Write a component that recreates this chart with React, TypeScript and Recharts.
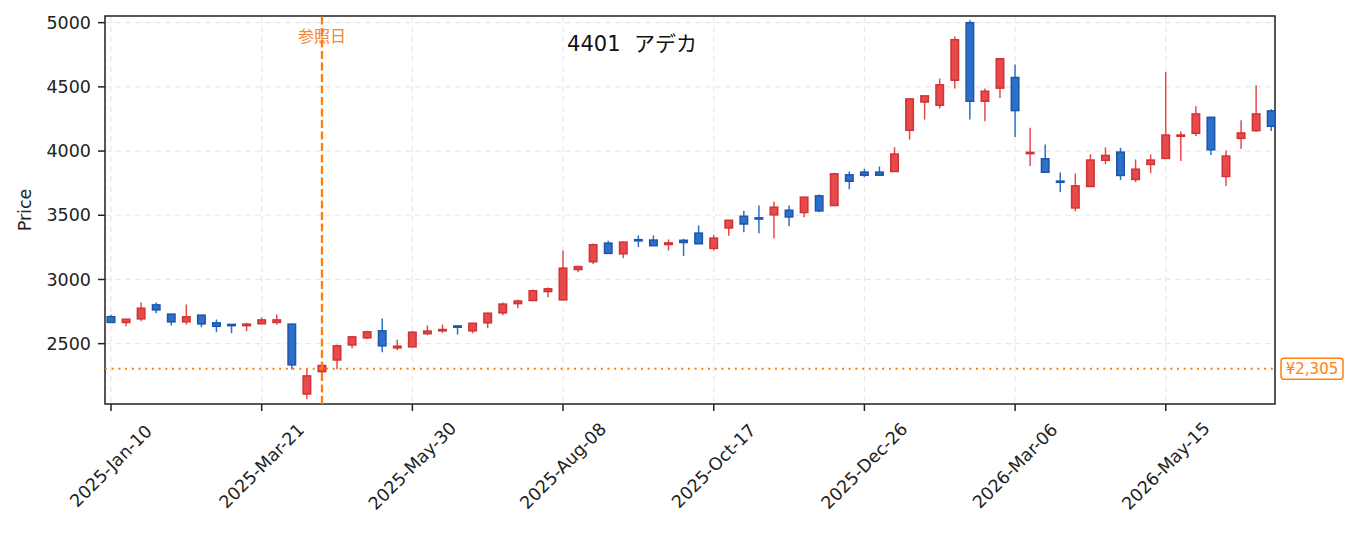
import React from "react";
import {
  Bar,
  CartesianGrid,
  ComposedChart,
  ReferenceArea,
  ReferenceLine,
  XAxis,
  YAxis,
} from "recharts";

// weekly candles, index 0 = 2025-01-10
const opens = [
  2710, 2665, 2693, 2802, 2730, 2670, 2722, 2662, 2650, 2640, 2655, 2665, 2652, 2108, 2282, 2373,
  2490, 2545, 2600, 2467, 2475, 2578, 2600, 2638, 2600, 2662, 2740, 2812, 2836, 2906, 2841, 3077,
  3138, 3283, 3200, 3310, 3307, 3272, 3305, 3361, 3242, 3401, 3492, 3480, 3503, 3539, 3521, 3651,
  3576, 3815, 3836, 3836, 3841, 4162, 4382, 4357, 4552, 5000, 4388, 4490, 4573, 3980, 3940, 3766,
  3557, 3724, 3928, 3992, 3779, 3896, 3943, 4115, 4138, 4263, 3802, 4099, 4159, 4313,
];
const highs = [
  2725, 2693, 2821, 2820, 2732, 2805, 2724, 2688, 2652, 2662, 2704, 2727, 2655, 2311, 2337, 2493,
  2561, 2600, 2696, 2532, 2598, 2641, 2649, 2640, 2661, 2742, 2821, 2844, 2922, 2938, 3226, 3106,
  3281, 3302, 3294, 3343, 3343, 3312, 3317, 3421, 3348, 3463, 3536, 3576, 3607, 3576, 3643, 3661,
  3831, 3841, 3862, 3880, 4031, 4409, 4432, 4565, 4893, 5018, 4487, 4721, 4674, 4182, 4052, 3833,
  3826, 3974, 4029, 4026, 3935, 3974, 4615, 4154, 4349, 4265, 4005, 4240, 4513, 4326,
];
const lows = [
  2660, 2636, 2675, 2737, 2641, 2649, 2628, 2589, 2581, 2597, 2652, 2649, 2298, 2067, 2272, 2300,
  2464, 2537, 2433, 2449, 2475, 2566, 2584, 2571, 2581, 2620, 2722, 2776, 2834, 2862, 2840, 3057,
  3120, 3203, 3166, 3252, 3260, 3226, 3182, 3276, 3225, 3341, 3367, 3359, 3320, 3414, 3484, 3523,
  3574, 3703, 3797, 3810, 3838, 4089, 4245, 4331, 4487, 4245, 4232, 4414, 4109, 3883, 3833, 3680,
  3531, 3722, 3898, 3774, 3758, 3828, 3941, 3922, 4117, 3969, 3727, 4016, 4151, 4156,
];
const closes = [
  2665, 2690, 2776, 2763, 2670, 2709, 2654, 2635, 2640, 2652, 2685, 2685, 2335, 2249, 2330, 2483,
  2553, 2592, 2483, 2480, 2589, 2598, 2610, 2628, 2659, 2737, 2808, 2832, 2912, 2927, 3088, 3100,
  3270, 3203, 3291, 3305, 3263, 3285, 3288, 3278, 3322, 3461, 3432, 3476, 3563, 3487, 3641, 3534,
  3823, 3765, 3812, 3812, 3977, 4406, 4430, 4516, 4867, 4388, 4466, 4719, 4315, 3990, 3835, 3760,
  3729, 3930, 3966, 3810, 3859, 3930, 4125, 4125, 4289, 4010, 3961, 4141, 4289, 4193,
];

const tickIdx = [0, 10, 20, 30, 40, 50, 60, 70];
const tickLabels = [
  "2025-Jan-10",
  "2025-Mar-21",
  "2025-May-30",
  "2025-Aug-08",
  "2025-Oct-17",
  "2025-Dec-26",
  "2026-Mar-06",
  "2026-May-15",
];
const yTicks = [2500, 3000, 3500, 4000, 4500, 5000];

const refIdx = 14;
const refPrice = 2305;
const title = "4401  アデカ";

const data = opens.map((o, i) => ({
  i,
  open: o,
  high: highs[i],
  low: lows[i],
  close: closes[i],
}));

const FONT = "'DejaVu Sans', 'Noto Sans CJK JP', sans-serif";
const ORANGE = "#ff7f0e";
const INK = "#222";

function Candle(props: any) {
  const { x, y, width, height, payload } = props;
  if (!payload) return null;
  const { open, close, high, low } = payload;
  const top = Math.min(y, y + height);
  const h = Math.abs(height);
  const k = h / (high - low || 1);
  const yOf = (v: number) => top + (high - v) * k;
  const up = close >= open;
  const cx = x + width / 2;
  const bTop = yOf(Math.max(open, close));
  const bBot = yOf(Math.min(open, close));
  const fill = up ? "#e8494b" : "#2b70c9";
  const edge = up ? "#cf3336" : "#1d55a8";
  return (
    <g>
      <line x1={cx} x2={cx} y1={top} y2={top + h} stroke={fill} strokeWidth={1.5} />
      <rect
        x={x + 0.75}
        y={bTop}
        width={width - 1.5}
        height={Math.max(bBot - bTop, 1.2)}
        fill={fill}
        stroke={edge}
        strokeWidth={1.5}
      />
    </g>
  );
}

function XTick(props: any) {
  const { x, payload } = props;
  const n = tickIdx.indexOf(payload.value);
  const cy = 458;
  return (
    <text
      x={x}
      y={cy}
      textAnchor="middle"
      dominantBaseline="central"
      transform={`rotate(-45 ${x} ${cy})`}
      fontFamily={FONT}
      fontSize={17.5}
      fill={INK}
    >
      {n >= 0 ? tickLabels[n] : ""}
    </text>
  );
}

function PriceLabel(props: any) {
  const vb = props.viewBox || {};
  const bx = vb.x + vb.width + 6;
  const by = vb.y;
  return (
    <g>
      <rect x={bx} y={by - 10.5} width={62} height={21} rx={3} fill="#fff" stroke={ORANGE} strokeWidth={1.5} />
      <text x={bx + 31} y={by} textAnchor="middle" dominantBaseline="central" fontFamily={FONT} fontSize={15} fill={ORANGE}>
        ¥{refPrice.toLocaleString("en-US")}
      </text>
    </g>
  );
}

function RefDateLabel(props: any) {
  const vb = props.viewBox || {};
  return (
    <text x={vb.x} y={vb.y + 20} textAnchor="middle" dominantBaseline="central" fontFamily={FONT} fontSize={16} fill="#f5862a">
      参照日
    </text>
  );
}

export default function App() {
  return (
    <div style={{ position: "relative", width: 1347, height: 526 }}>
      <ComposedChart
        width={1347}
        height={526}
        data={data}
        margin={{ top: 8, right: 80, bottom: 0, left: 0 }}
      >
        <CartesianGrid stroke="#e9e9e9" strokeDasharray="6 4" strokeWidth={1.2} />
        <XAxis
          dataKey="i"
          type="number"
          domain={[-0.4, 77.25]}
          allowDataOverflow
          ticks={tickIdx}
          interval={0}
          height={130}
          axisLine={false}
          tickLine={{ stroke: INK, strokeWidth: 1.5 }}
          tickSize={7}
          tick={<XTick />}
        />
        <YAxis
          type="number"
          domain={[2030, 5052]}
          allowDataOverflow
          ticks={yTicks}
          interval={0}
          width={97}
          axisLine={false}
          tickLine={{ stroke: INK, strokeWidth: 1.5 }}
          tickSize={7}
          tickMargin={7}
          tick={{ fontFamily: FONT, fontSize: 17.5, fill: INK }}
          label={{
            content: () => (
              <text
                x={17}
                y={202}
                transform="rotate(-90 17 202)"
                textAnchor="middle"
                dominantBaseline="central"
                fontFamily={FONT}
                fontSize={17.5}
                fill={INK}
              >
                Price
              </text>
            ),
          }}
        />
        <Bar
          dataKey={(d: any) => [d.low, d.high]}
          barSize={9}
          shape={<Candle />}
          isAnimationActive={false}
        />
        <ReferenceLine
          x={refIdx}
          stroke={ORANGE}
          strokeWidth={2.3}
          strokeDasharray="8 3.5"
          label={<RefDateLabel />}
        />
        <ReferenceLine
          y={refPrice}
          stroke={ORANGE}
          strokeWidth={2}
          strokeDasharray="2 4.7"
          label={<PriceLabel />}
        />
        <ReferenceArea
          x1={-0.4}
          x2={77.25}
          y1={2030}
          y2={5052}
          fill="none"
          stroke={INK}
          strokeWidth={1.5}
          ifOverflow="visible"
        />
      </ComposedChart>
      <div
        style={{
          position: "absolute",
          left: 624,
          top: 34,
          transform: "translate(-50%, -50%)",
          fontFamily: FONT,
          fontSize: 21,
          color: "#111",
          whiteSpace: "pre",
        }}
      >
        {title}
      </div>
    </div>
  );
}
